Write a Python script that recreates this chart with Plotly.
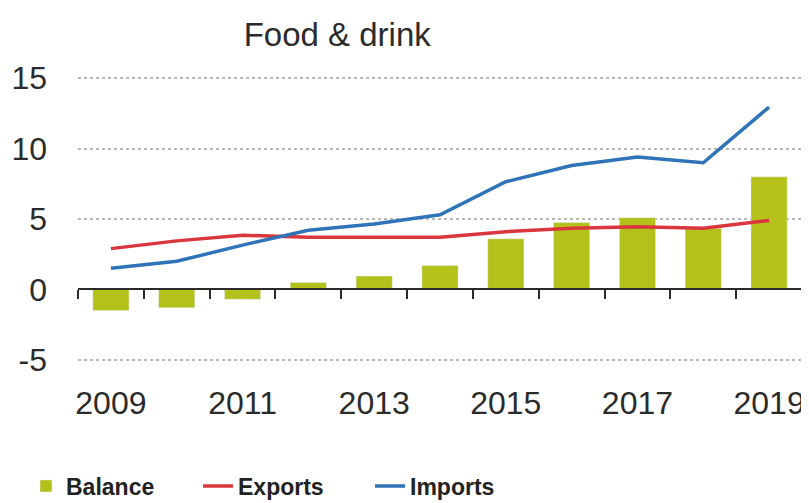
import plotly.graph_objects as go

years = [2009, 2010, 2011, 2012, 2013, 2014, 2015, 2016, 2017, 2018, 2019]
balance = [-1.5, -1.3, -0.7, 0.5, 0.95, 1.7, 3.6, 4.75, 5.1, 4.35, 8.0]
exports = [2.9, 3.45, 3.85, 3.7, 3.7, 3.7, 4.1, 4.35, 4.45, 4.35, 4.9]
imports = [1.5, 2.0, 3.15, 4.2, 4.65, 5.3, 7.65, 8.8, 9.4, 9.0, 12.95]
y_ticks = [-5, 0, 5, 10, 15]
y_tick_labels = ["-5", "0", "5", "10", "15"]
x_ticks = [2009, 2011, 2013, 2015, 2017, 2019]
title_text = "Food & drink"

YMIN, YMAX = -6.5, 15.3
XMIN, XMAX = 2008.5, 2019.5
boundaries = [y - 0.5 for y in years] + [years[-1] + 0.5]

C_BAL = "#b4c11b"
C_EXP = "#d9363e"
C_IMP = "#2f73b8"
TXT = "#2b2b2b"

# the page body adds an 8px offset, so the figure is sized to fit the window
W, H = 801, 495

fig = go.Figure()
fig.add_trace(go.Bar(x=years, y=balance, name="Balance", marker_color=C_BAL,
                     width=0.55))
fig.add_trace(go.Scatter(x=years, y=exports, name="Exports", mode="lines",
                         line=dict(color=C_EXP, width=3.5)))
fig.add_trace(go.Scatter(x=years, y=imports, name="Imports", mode="lines",
                         line=dict(color=C_IMP, width=3.5)))
# helper trace for the zero-level axis with category tick marks
fig.add_trace(go.Scatter(x=[XMIN], y=[0], xaxis="x2", mode="markers",
                         marker=dict(opacity=0), showlegend=False, hoverinfo="skip"))

zero_pos = (0 - YMIN) / (YMAX - YMIN)

fig.update_layout(
    width=W, height=H,
    margin=dict(l=70, r=7, t=66, b=122, autoexpand=False),
    plot_bgcolor="white", paper_bgcolor="white",
    font=dict(family="Liberation Sans, Arial, sans-serif", color=TXT),
    title=dict(text=title_text, x=0.358, xanchor="center", xref="paper",
               y=1 - 26 / H, yref="container", yanchor="middle",
               font=dict(size=33, color=TXT)),
    xaxis=dict(range=[XMIN, XMAX], tickvals=x_ticks, ticktext=[str(v) for v in x_ticks],
               showgrid=False, zeroline=False, showline=False, ticks="",
               tickfont=dict(size=32, color=TXT)),
    xaxis2=dict(range=[XMIN, XMAX], overlaying="x", anchor="free", position=zero_pos,
                side="bottom", tickvals=boundaries, showticklabels=False,
                ticks="outside", ticklen=9, tickwidth=2, tickcolor=TXT,
                showline=True, linecolor=TXT, linewidth=2, showgrid=False, zeroline=False),
    yaxis=dict(range=[YMIN, YMAX], tickvals=y_ticks, ticktext=y_tick_labels, showgrid=True,
               gridcolor="#b8b8b8", griddash="dot", gridwidth=1.5,
               zeroline=False, ticks="", ticklabelstandoff=30,
               tickfont=dict(size=32, color=TXT)),
    legend=dict(orientation="h", xref="container", yref="container",
                x=18 / W, y=(H - 478) / H, xanchor="left", yanchor="middle",
                font=dict(family="Liberation Sans, Arial, sans-serif",
                          size=23, color="#222222", weight="bold"),
                entrywidth=127, traceorder="normal"),
    showlegend=True,
)

fig.write_html("out.html")
